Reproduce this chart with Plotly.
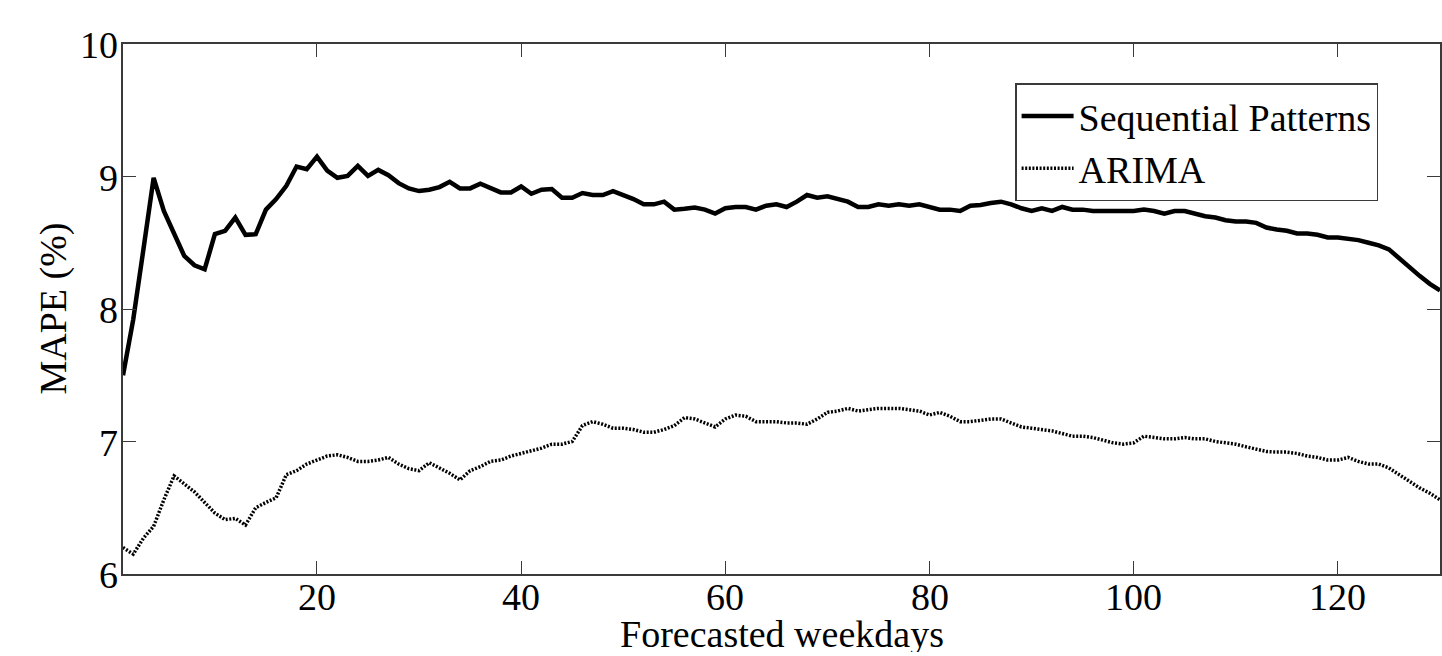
import plotly.graph_objects as go

days = list(range(1, 131))

sequential_patterns = [
    7.50, 7.92, 8.45, 8.99, 8.74, 8.56, 8.40, 8.33, 8.30, 8.565,
    8.59, 8.69, 8.56, 8.565, 8.75, 8.83, 8.93, 9.075, 9.055, 9.15,
    9.045, 8.99, 9.005, 9.08, 9.005, 9.05, 9.01, 8.95, 8.91, 8.89,
    8.90, 8.92, 8.96, 8.91, 8.91, 8.945, 8.91, 8.88, 8.88, 8.925,
    8.87, 8.90, 8.905, 8.84, 8.84, 8.875, 8.86, 8.86, 8.89, 8.86,
    8.83, 8.79, 8.79, 8.81, 8.75, 8.756, 8.765, 8.75, 8.72, 8.76,
    8.77, 8.77, 8.75, 8.78, 8.79, 8.77, 8.81, 8.86, 8.84, 8.85,
    8.83, 8.81, 8.77, 8.77, 8.79, 8.78, 8.79, 8.78, 8.79, 8.77,
    8.75, 8.75, 8.74, 8.78, 8.785, 8.80, 8.81, 8.79, 8.76, 8.74,
    8.76, 8.74, 8.77, 8.75, 8.75, 8.74, 8.74, 8.74, 8.74, 8.74,
    8.75, 8.74, 8.72, 8.74, 8.74, 8.72, 8.70, 8.69, 8.67, 8.66,
    8.66, 8.65, 8.615, 8.60, 8.59, 8.57, 8.57, 8.56, 8.54, 8.54,
    8.53, 8.52, 8.50, 8.48, 8.45, 8.38, 8.32, 8.25, 8.19, 8.14,
]

arima = [
    6.20, 6.15, 6.27, 6.36, 6.56, 6.74, 6.68, 6.62, 6.54, 6.46,
    6.41, 6.42, 6.37, 6.50, 6.54, 6.575, 6.75, 6.78, 6.83, 6.86,
    6.89, 6.90, 6.88, 6.85, 6.85, 6.86, 6.88, 6.83, 6.795, 6.78,
    6.84, 6.80, 6.76, 6.71, 6.78, 6.81, 6.85, 6.86, 6.89, 6.91,
    6.93, 6.95, 6.98, 6.98, 7.00, 7.12, 7.15, 7.13, 7.10, 7.10,
    7.09, 7.07, 7.07, 7.09, 7.12, 7.18, 7.17, 7.14, 7.11, 7.17,
    7.20, 7.19, 7.15, 7.15, 7.15, 7.14, 7.14, 7.13, 7.17, 7.22,
    7.23, 7.25, 7.23, 7.24, 7.25, 7.25, 7.25, 7.24, 7.23, 7.20,
    7.22, 7.19, 7.15, 7.15, 7.16, 7.17, 7.17, 7.14, 7.11, 7.10,
    7.09, 7.08, 7.06, 7.04, 7.04, 7.03, 7.01, 6.99, 6.98, 6.99,
    7.04, 7.03, 7.02, 7.02, 7.03, 7.02, 7.02, 7.00, 6.99, 6.98,
    6.96, 6.94, 6.925, 6.92, 6.92, 6.91, 6.89, 6.88, 6.86, 6.86,
    6.88, 6.85, 6.83, 6.83, 6.80, 6.75, 6.70, 6.65, 6.61, 6.56,
]

x_ticks = [20, 40, 60, 80, 100, 120]
y_ticks = [6, 7, 8, 9, 10]
x_title = "Forecasted weekdays"
y_title = "MAPE (%)"

FONT = "Liberation Serif, Times New Roman, serif"
AX = "#3a3a3a"
TICK_FONT = dict(family=FONT, size=38, color="black")

fig = go.Figure()
fig.add_trace(go.Scatter(
    x=days, y=sequential_patterns, mode="lines", name="Sequential Patterns",
    line=dict(color="black", width=4.5),
))
fig.add_trace(go.Scatter(
    x=days, y=arima, mode="lines", name="ARIMA",
    line=dict(color="black", width=3.5, dash="2px,1.6px"),
))

axis_common = dict(
    showline=True, linecolor=AX, linewidth=1.5, mirror="ticks",
    ticks="inside", ticklen=13, tickwidth=1, tickcolor=AX,
    showgrid=False, zeroline=False, automargin=False,
    showticklabels=False,
)

# tick labels placed through the axis scales
annotations = []
for t in x_ticks:
    annotations.append(dict(
        text=str(t), xref="x", yref="paper", x=t, y=0,
        xanchor="center", yanchor="middle", yshift=-23, height=30,
        showarrow=False, font=TICK_FONT,
    ))
for t in y_ticks:
    annotations.append(dict(
        text=str(t), xref="paper", yref="y", x=0, y=t,
        xanchor="right", yanchor="middle", xshift=-3, yshift=-1,
        showarrow=False, font=TICK_FONT,
    ))
annotations += [
    dict(text=x_title, xref="paper", yref="paper", x=0.5, y=-0.1135,
         xanchor="center", yanchor="middle", showarrow=False, font=TICK_FONT,
         height=36),
    dict(text=y_title, xref="paper", yref="paper", x=-0.0535, y=0.5,
         xanchor="center", yanchor="middle", showarrow=False, textangle=-90,
         font=TICK_FONT),
]

fig.update_layout(
    width=1442, height=656,
    margin=dict(l=122.5, r=1.5, t=44, b=81.5, pad=0),
    paper_bgcolor="white", plot_bgcolor="white",
    font=dict(family=FONT, color="black"),
    xaxis=dict(range=[1, 130], tickvals=x_ticks, **axis_common),
    yaxis=dict(range=[6, 10], tickvals=y_ticks, **axis_common),
    legend=dict(
        x=0.953, y=0.926, xanchor="right", yanchor="top",
        bgcolor="white", bordercolor=AX, borderwidth=1.5,
        font=dict(family=FONT, size=38, color="black"),
        tracegroupgap=0, itemwidth=52,
    ),
    showlegend=True,
    annotations=annotations,
)

fig.write_html(
    "out.html",
    config={"displayModeBar": False},
    post_script=(
        "document.documentElement.style.margin='0';"
        "document.documentElement.style.overflow='hidden';"
        "document.body.style.margin='0';"
        "document.body.style.overflow='hidden';"
    ),
)
